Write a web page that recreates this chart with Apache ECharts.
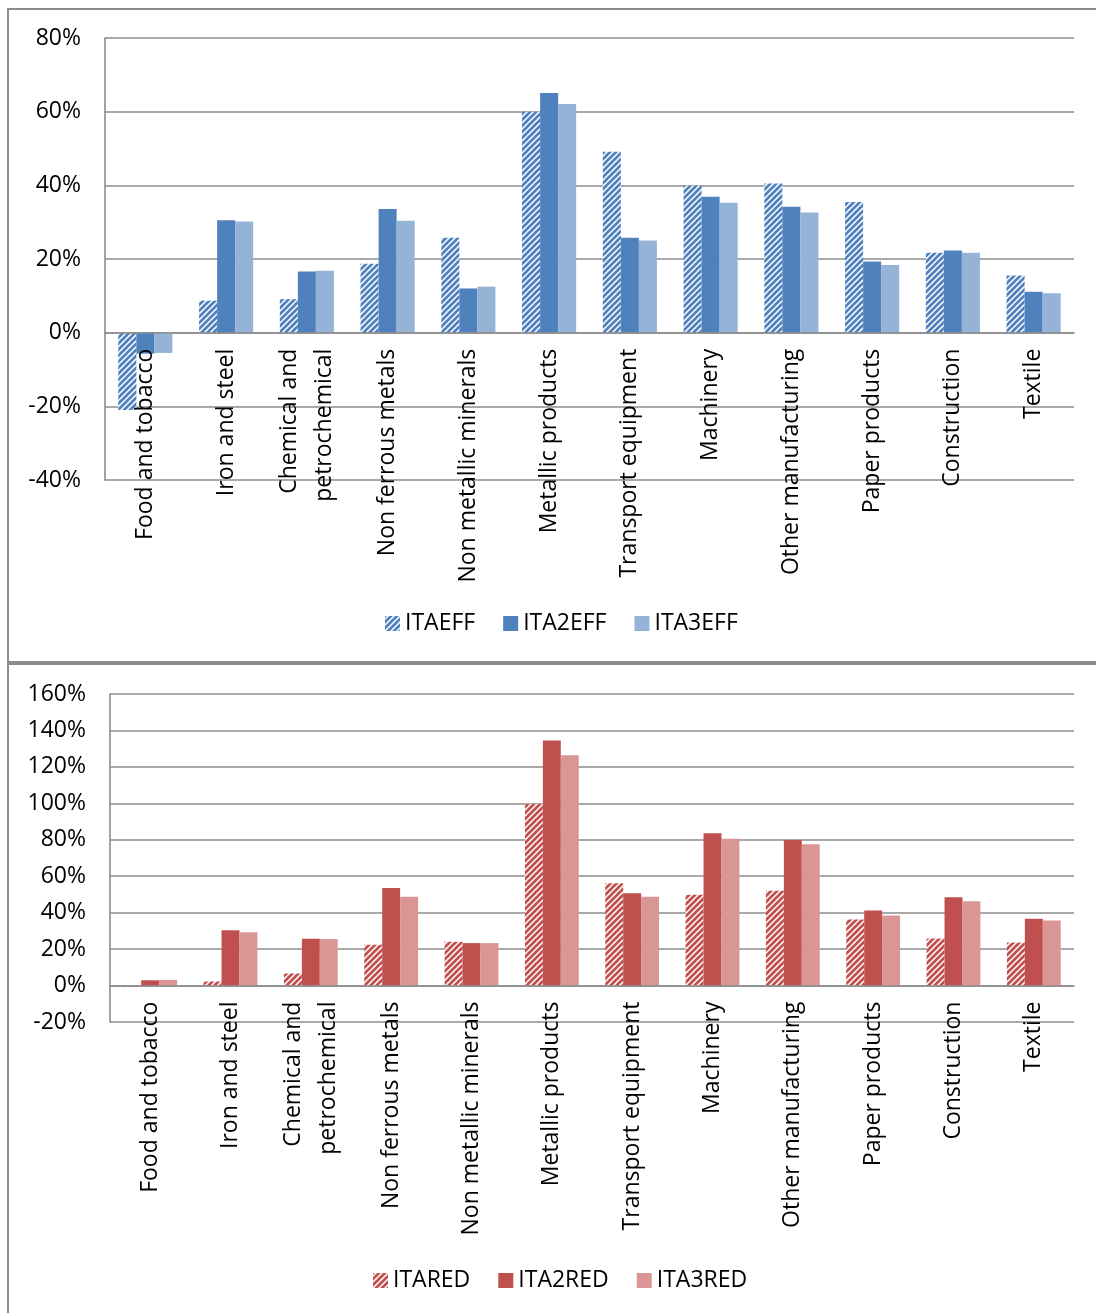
<!DOCTYPE html>
<html>
<head>
<meta charset="utf-8">
<script src="https://cdn.jsdelivr.net/npm/echarts@6/dist/echarts.min.js"></script>
<style>
html,body{margin:0;padding:0;background:#fff;}
#c{width:1096px;height:1313px;}
</style>
</head>
<body>
<div id="c"></div>
<script>
const categories = ['Food and tobacco','Iron and steel','Chemical and\npetrochemical','Non ferrous metals','Non metallic minerals','Metallic products','Transport equipment','Machinery','Other manufacturing','Paper products','Construction','Textile'];

const topTicks = {min: -40, max: 80, interval: 20};
const bottomTicks = {min: -20, max: 160, interval: 20};

const itaEff  = [-21.0, 8.7, 9.1, 18.7, 25.8, 60.0, 49.1, 39.9, 40.5, 35.5, 21.7, 15.5];
const ita2Eff = [-5.7, 30.5, 16.6, 33.6, 12.0, 65.1, 25.8, 36.9, 34.2, 19.3, 22.3, 11.1];
const ita3Eff = [-5.5, 30.2, 16.8, 30.4, 12.5, 62.1, 25.0, 35.3, 32.6, 18.4, 21.7, 10.7];

const itaRed  = [-0.5, 2.2, 6.6, 22.4, 24.0, 99.7, 56.1, 49.8, 52.0, 36.3, 25.8, 23.6];
const ita2Red = [2.9, 30.4, 25.7, 53.5, 23.3, 134.5, 50.6, 83.6, 79.9, 41.2, 48.4, 36.7];
const ita3Red = [3.1, 29.3, 25.5, 48.7, 23.3, 126.4, 48.7, 80.6, 77.5, 38.5, 46.2, 35.7];

function hatch(color){
  const s = 6;
  const c = document.createElement('canvas');
  c.width = s; c.height = s;
  const ctx = c.getContext('2d');
  ctx.fillStyle = '#fff';
  ctx.fillRect(0,0,s,s);
  ctx.strokeStyle = color;
  ctx.lineWidth = 2.7;
  ctx.beginPath();
  ctx.moveTo(0, s); ctx.lineTo(s, 0);
  ctx.moveTo(-s/2, s/2); ctx.lineTo(s/2, -s/2);
  ctx.moveTo(s/2, s*1.5); ctx.lineTo(s*1.5, s/2);
  ctx.stroke();
  return {image: c, repeat: 'repeat'};
}

const FONT = 'Open Sans';
const FS = 23;
const gridColor = '#8c8c8c';

// grid geometry (pixels)
const G0 = {left: 105, top: 38, width: 969, height: 442};
const G1 = {left: 110, top: 694, width: 964, height: 328};

// distance of the zero line above the bottom edge of each grid
function zeroOffset(g, t){ return g.height * (0 - t.min) / (t.max - t.min); }

function xAx(gi, g, t){
  return {
    type: 'category', gridIndex: gi, data: categories, z: 10,
    offset: -zeroOffset(g, t),
    axisLine: {show: true, onZero: false, lineStyle: {color: gridColor, width: 1.6}},
    axisTick: {show: false},
    axisLabel: {rotate: 90, interval: 0, margin: 16, color: '#000', fontFamily: FONT, fontSize: FS, lineHeight: 35}
  };
}
function yAx(gi, t){
  return {
    type: 'value', gridIndex: gi, min: t.min, max: t.max, interval: t.interval,
    axisLine: {show: true, lineStyle: {color: gridColor, width: 1.6}},
    axisTick: {show: false},
    splitLine: {show: true, lineStyle: {color: gridColor, width: 1.6}},
    axisLabel: {formatter: '{value}%', color: '#000', fontFamily: FONT, fontSize: FS, margin: 24}
  };
}
function bar(name, data, color, gi){
  return {
    name: name, type: 'bar', xAxisIndex: gi, yAxisIndex: gi, data: data,
    barGap: '0%', barCategoryGap: '33%',
    itemStyle: {color: color}
  };
}

const blue = '#4F81BD', lblue = '#95B3D7', red = '#C0504D', lred = '#D99694';

const chart = echarts.init(document.getElementById('c'), null, {renderer: 'canvas'});
chart.setOption({
  animation: false,
  backgroundColor: '#fff',
  graphic: [
    {type: 'rect', shape: {x: 8, y: 9, width: 1100, height: 653}, style: {fill: 'none', stroke: '#8c8c8c', lineWidth: 2}, silent: true},
    {type: 'rect', shape: {x: 8, y: 664, width: 1100, height: 700}, style: {fill: 'none', stroke: '#8c8c8c', lineWidth: 2}, silent: true}
  ],
  grid: [G0, G1],
  xAxis: [xAx(0, G0, topTicks), xAx(1, G1, bottomTicks)],
  yAxis: [yAx(0, topTicks), yAx(1, bottomTicks)],
  legend: [
    {left: 380, top: 607, itemWidth: 15, itemHeight: 15, itemGap: 28, icon: 'rect',
     textStyle: {fontFamily: FONT, fontSize: FS, color: '#000'},
     data: ['ITAEFF','ITA2EFF','ITA3EFF']},
    {left: 368, top: 1264, itemWidth: 15, itemHeight: 15, itemGap: 28, icon: 'rect',
     textStyle: {fontFamily: FONT, fontSize: FS, color: '#000'},
     data: ['ITARED','ITA2RED','ITA3RED']}
  ],
  series: [
    bar('ITAEFF', itaEff, hatch(blue), 0),
    bar('ITA2EFF', ita2Eff, blue, 0),
    bar('ITA3EFF', ita3Eff, lblue, 0),
    bar('ITARED', itaRed, hatch(red), 1),
    bar('ITA2RED', ita2Red, red, 1),
    bar('ITA3RED', ita3Red, lred, 1)
  ]
});
</script>
</body>
</html>
